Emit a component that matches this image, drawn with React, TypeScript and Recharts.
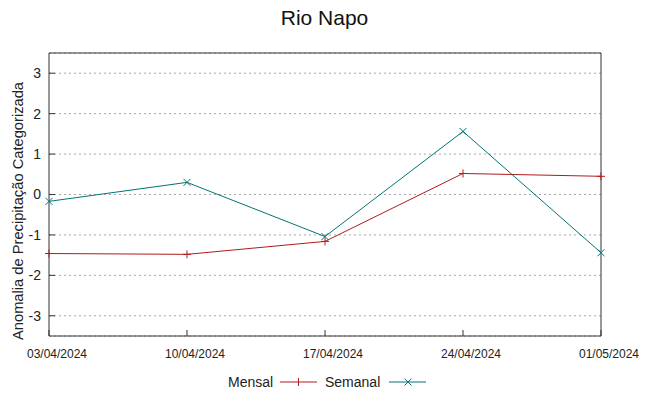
import React from 'react';
import { LineChart, Line, XAxis, YAxis, CartesianGrid, ReferenceArea } from 'recharts';

const dates = ['03/04/2024', '10/04/2024', '17/04/2024', '24/04/2024', '01/05/2024'];
const mensal = [-1.46, -1.48, -1.16, 0.52, 0.45];
const semanal = [-0.17, 0.30, -1.04, 1.56, -1.44];
const yTicks = [-3, -2, -1, 0, 1, 2, 3];

const data = dates.map((d, i) => ({ date: d, mensal: mensal[i], semanal: semanal[i] }));

const RED = '#b01c1c';
const TEAL = '#007575';
const FONT = '"Liberation Sans", Arial, sans-serif';

const PlusDot = (props: any) => {
  const { cx, cy } = props;
  if (cx == null || cy == null) return null;
  return (
    <g stroke={RED} strokeWidth={1}>
      <line x1={cx - 4} y1={cy} x2={cx + 4} y2={cy} />
      <line x1={cx} y1={cy - 4} x2={cx} y2={cy + 4} />
    </g>
  );
};

const CrossDot = (props: any) => {
  const { cx, cy } = props;
  if (cx == null || cy == null) return null;
  return (
    <g stroke={TEAL} strokeWidth={1}>
      <line x1={cx - 3.5} y1={cy - 3.5} x2={cx + 3.5} y2={cy + 3.5} />
      <line x1={cx - 3.5} y1={cy + 3.5} x2={cx + 3.5} y2={cy - 3.5} />
    </g>
  );
};

export default function App() {
  return (
    <div style={{ position: 'absolute', left: 0, top: 0, width: 649, height: 396, background: '#fff', fontFamily: FONT }}>
      <div style={{ position: 'absolute', left: 0, top: 6, width: 649, textAlign: 'center', fontSize: 21, color: '#111' }}>Rio Napo</div>
      <LineChart width={649} height={396} data={data} margin={{ top: 53, right: 48, bottom: 30, left: 19 }}>
        <CartesianGrid vertical={false} stroke="#a8a8a8" strokeDasharray="2 3" xAxisId="bottom" yAxisId="left" />
        <XAxis dataKey="date" xAxisId="bottom" orientation="bottom" height={30} interval={0}
          axisLine={false} tickLine={{ stroke: '#333' }} tickSize={-6} tickMargin={19}
          tick={{ fontSize: 12, fill: '#222', fontFamily: FONT, dx: 8 }} />
        <XAxis dataKey="date" xAxisId="top" orientation="top" height={0} interval={0}
          axisLine={false} tickLine={{ stroke: '#333' }} tickSize={-6} tick={() => <g />} />
        <YAxis yAxisId="left" domain={[-3.5, 3.5]} ticks={yTicks} width={30} interval={0}
          axisLine={false} tickLine={{ stroke: '#333' }} tickSize={-6} tickMargin={14}
          tick={{ fontSize: 14, fill: '#222', fontFamily: FONT }} />
        <YAxis yAxisId="right" orientation="right" domain={[-3.5, 3.5]} ticks={yTicks} width={0} interval={0}
          axisLine={false} tickLine={{ stroke: '#333' }} tickSize={-6} tick={() => <g />} />
        <ReferenceArea xAxisId="bottom" yAxisId="left" x1={dates[0]} x2={dates[dates.length - 1]} y1={-3.5} y2={3.5}
          fill="none" fillOpacity={0} stroke="#333" strokeWidth={1} ifOverflow="visible" />
        <Line xAxisId="bottom" yAxisId="left" dataKey="mensal" stroke={RED} strokeWidth={1}
          dot={<PlusDot />} activeDot={false} isAnimationActive={false} />
        <Line xAxisId="bottom" yAxisId="left" dataKey="semanal" stroke={TEAL} strokeWidth={1}
          dot={<CrossDot />} activeDot={false} isAnimationActive={false} />
      </LineChart>
      <svg width={40} height={396} style={{ position: 'absolute', left: 0, top: 0, pointerEvents: 'none' }}>
        <text x={23} y={211} transform="rotate(-90 23 211)" textAnchor="middle"
          fontFamily={FONT} fontSize={14.7} fill="#222">Anomalia de Precipitação Categorizada</text>
      </svg>
      <div style={{ position: 'absolute', left: 228, top: 373, fontSize: 14, color: '#222', lineHeight: '18px' }}>Mensal</div>
      <svg width={40} height={14} style={{ position: 'absolute', left: 279, top: 375 }}>
        <line x1={1} y1={7} x2={38} y2={7} stroke={RED} />
        <line x1={19.5} y1={3} x2={19.5} y2={11} stroke={RED} />
      </svg>
      <div style={{ position: 'absolute', left: 325, top: 373, fontSize: 14, color: '#222', lineHeight: '18px' }}>Semanal</div>
      <svg width={40} height={14} style={{ position: 'absolute', left: 388, top: 375 }}>
        <line x1={1} y1={7} x2={38} y2={7} stroke={TEAL} />
        <line x1={16.5} y1={3.5} x2={23.5} y2={10.5} stroke={TEAL} />
        <line x1={16.5} y1={10.5} x2={23.5} y2={3.5} stroke={TEAL} />
      </svg>
    </div>
  );
}
